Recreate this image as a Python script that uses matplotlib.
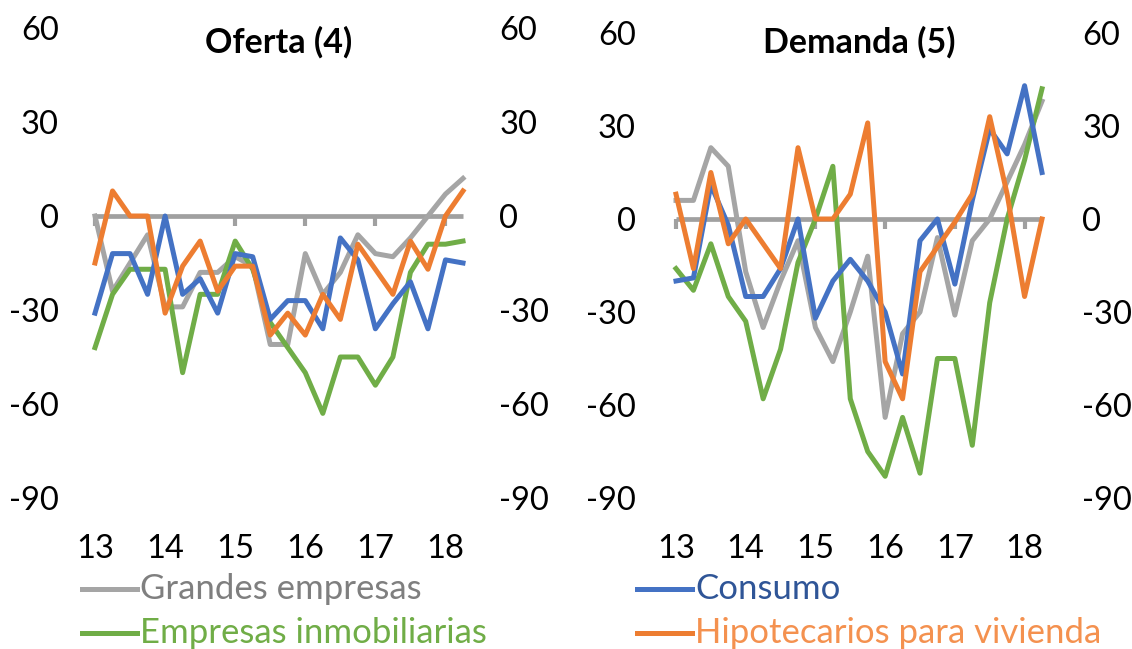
import matplotlib
matplotlib.use("Agg")
import matplotlib.pyplot as plt
from matplotlib.lines import Line2D

plt.rcParams['font.family'] = ['Lato', 'DejaVu Sans']
plt.rcParams['axes.unicode_minus'] = False

# quarterly data, 2013Q1 .. 2018Q2
year_labels = ['13', '14', '15', '16', '17', '18']
year_pos = [0, 4, 8, 12, 16, 20]
y_ticks = [-90, -60, -30, 0, 30, 60]

series_names = ['Grandes empresas', 'Empresas inmobiliarias', 'Consumo', 'Hipotecarios para vivienda']

oferta_grandes = [0, -24, -15, -6, -29, -29, -18, -18, -13, -16, -41, -41, -12, -25, -18, -6, -12, -13, -7, 0, 7, 12]
oferta_inmob = [-42, -25, -17, -17, -17, -50, -25, -25, -8, -17, -34, -42, -50, -63, -45, -45, -54, -45, -18, -9, -9, -8]
oferta_consumo = [-31, -12, -12, -25, 0, -25, -20, -31, -12, -13, -33, -27, -27, -36, -7, -14, -36, -28, -21, -36, -14, -15]
oferta_hipot = [-15, 8, 0, 0, -31, -16, -8, -24, -16, -16, -38, -31, -38, -25, -33, -9, -17, -25, -8, -17, 0, 8]

demanda_grandes = [6, 6, 23, 17, -17, -35, -20, -7, -35, -46, -30, -12, -64, -37, -30, -6, -31, -7, 0, 12, 24, 38]
demanda_inmob = [-16, -23, -8, -25, -33, -58, -42, -14, 0, 17, -58, -75, -83, -64, -82, -45, -45, -73, -27, 0, 19, 42]
demanda_consumo = [-20, -19, 11, -2, -25, -25, -16, 0, -32, -20, -13, -20, -30, -50, -7, 0, -21, 6, 29, 21, 43, 15]
demanda_hipot = [8, -16, 15, -8, 0, -8, -16, 23, 0, 0, 8, 31, -46, -58, -17, -9, -1, 8, 33, 8, -25, 0]

line_colors = ['#A5A5A5', '#70AD47', '#4472C4', '#ED7D31']
text_colors = ['#7F7F7F', '#70AD47', '#2F5597', '#F4914F']
axis_gray = '#A0A0A0'
fs = 23.5

fig = plt.figure(figsize=(11.32, 6.49), dpi=100)
W, H = 1132, 649


def px_axes(x0, x1, ytop, ybot):
    return fig.add_axes([x0 / W, 1 - ybot / H, (x1 - x0) / W, (ybot - ytop) / H])


def panel(ax, data, title, title_y, pad):
    xs = list(range(len(data[0])))
    for vals, c in zip(data, line_colors):
        ax.plot(xs, vals, color=c, lw=3.6, zorder=3, clip_on=False)
    ax.set_xlim(0, len(xs) - 1)
    ax.set_ylim(-90, 60)
    ax.set_yticks(y_ticks)
    ax.tick_params(axis='y', length=0, labelleft=True, labelright=True,
                   labelsize=fs, pad=pad)
    for s in ['top', 'left', 'right']:
        ax.spines[s].set_visible(False)
    # category axis crosses at zero
    ax.spines['bottom'].set_position(('data', 0))
    ax.spines['bottom'].set_color(axis_gray)
    ax.spines['bottom'].set_linewidth(3.4)
    ax.spines['bottom'].set_capstyle('butt')
    ax.set_xticks(year_pos)
    ax.tick_params(axis='x', direction='out', length=7, width=3,
                   color=axis_gray, labelbottom=False)
    sec = ax.secondary_xaxis('bottom')
    sec.set_xticks(year_pos, year_labels)
    sec.tick_params(length=0, pad=26, labelsize=fs)
    sec.spines['bottom'].set_visible(False)
    ax.text(0.5, title_y, title, transform=ax.transAxes, ha='center',
            va='center', fontsize=24.5, fontweight='bold')
    return ax


ax1 = px_axes(95, 463, 28, 498)
panel(ax1, [oferta_grandes, oferta_inmob, oferta_consumo, oferta_hipot],
      'Oferta (4)', 0.97, 26)
ax2 = px_axes(676, 1042, 33, 498)
panel(ax2, [demanda_grandes, demanda_inmob, demanda_consumo, demanda_hipot],
      'Demanda (5)', 0.98, 29)

# legend
rows = [(0, 82, 589), (1, 82, 633), (2, 637, 589), (3, 637, 633)]
for i, x0, yc in rows:
    fig.add_artist(Line2D([x0 / W, (x0 + 55) / W], [1 - yc / H, 1 - yc / H],
                          color=line_colors[i], lw=3.6, transform=fig.transFigure))
    fig.text((x0 + 58) / W, 1 - yc / H, series_names[i], color=text_colors[i],
             fontsize=25, ha='left', va='center')

fig.savefig('out.png', dpi=100)
